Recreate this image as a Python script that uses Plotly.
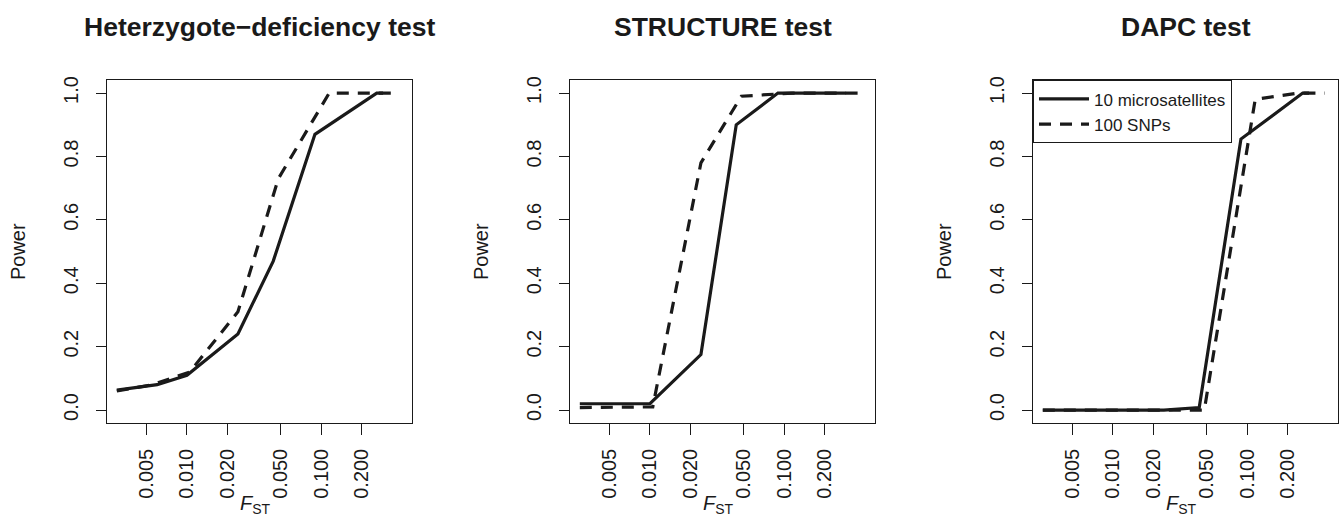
import plotly.graph_objects as go

# ---- data ----
fst_msat = [0.003, 0.006, 0.010, 0.024, 0.044, 0.090, 0.260, 0.290]
fst_snp = [0.003, 0.0055, 0.0105, 0.024, 0.048, 0.115, 0.240, 0.380]

titles = ["Heterzygote\u2212deficiency test", "STRUCTURE test", "DAPC test"]

het_msat = [0.063, 0.080, 0.110, 0.240, 0.470, 0.870, 1.000, 1.000]
het_snp = [0.060, 0.080, 0.120, 0.310, 0.730, 1.000, 1.000, 1.000]

str_msat = [0.020, 0.020, 0.020, 0.175, 0.900, 1.000, 1.000, 1.000]
str_snp = [0.008, 0.008, 0.010, 0.780, 0.990, 1.000, 1.000, 1.000]

dapc_msat = [0.000, 0.000, 0.000, 0.000, 0.008, 0.855, 1.000, 1.000]
dapc_snp = [0.000, 0.000, 0.000, 0.000, 0.000, 0.980, 1.000, 1.000]

series_names = ["10 microsatellites", "100 SNPs"]

x_tickvals = [0.005, 0.010, 0.020, 0.050, 0.100, 0.200]
x_ticktext = ["0.005", "0.010", "0.020", "0.050", "0.100", "0.200"]
y_tickvals = [0.0, 0.2, 0.4, 0.6, 0.8, 1.0]
y_ticktext = ["0.0", "0.2", "0.4", "0.6", "0.8", "1.0"]

panels = [(het_msat, het_snp), (str_msat, str_snp), (dapc_msat, dapc_snp)]

# ---- layout geometry ----
W, H = 1341, 518
x_px = [(107, 412), (570, 875), (1033, 1338)]
y_px = (77, 422)
FONT = "Liberation Sans, Arial, Helvetica, sans-serif"
INK = "#1a1a1a"

fig = go.Figure()

for i, (msat, snp) in enumerate(panels):
    xa = "x" if i == 0 else f"x{i+1}"
    ya = "y" if i == 0 else f"y{i+1}"
    show = (i == 2)
    fig.add_trace(go.Scatter(
        x=fst_msat, y=msat, mode="lines", name=series_names[0],
        line=dict(color=INK, width=3.2), xaxis=xa, yaxis=ya,
        showlegend=show, legendrank=1,
    ))
    fig.add_trace(go.Scatter(
        x=fst_snp, y=snp, mode="lines", name=series_names[1],
        line=dict(color=INK, width=3.2, dash="12px,9px"), xaxis=xa, yaxis=ya,
        showlegend=show, legendrank=2,
    ))

layout = dict(
    width=W, height=H,
    margin=dict(l=0, r=0, t=0, b=0),
    paper_bgcolor="white", plot_bgcolor="white",
    font=dict(family=FONT, size=20, color=INK),
    showlegend=True,
    legend=dict(
        x=1033 / W, y=1 - y_px[0] / H, xanchor="left", yanchor="top",
        bordercolor=INK, borderwidth=1, bgcolor="white",
        font=dict(family=FONT, size=17, color=INK),
        itemwidth=50, tracegroupgap=0,
    ),
)

annotations = []
for i in range(3):
    xk = "xaxis" if i == 0 else f"xaxis{i+1}"
    yk = "yaxis" if i == 0 else f"yaxis{i+1}"
    x0, x1 = x_px[i]
    layout[xk] = dict(
        domain=[x0 / W, x1 / W], anchor="y" if i == 0 else f"y{i+1}",
        type="log", range=[-2.596, -0.322],
        tickmode="array", tickvals=x_tickvals, ticktext=x_ticktext,
        tickangle=-90, ticks="outside", ticklen=11, tickwidth=1, tickcolor=INK,
        showline=True, linecolor=INK, linewidth=1, mirror=True,
        showgrid=False, zeroline=False,
        tickfont=dict(family=FONT, size=20, color=INK),
        ticklabelstandoff=6,
    )
    layout[yk] = dict(
        domain=[1 - y_px[1] / H, 1 - y_px[0] / H], anchor="x" if i == 0 else f"x{i+1}",
        range=[-0.04, 1.04],
        tickmode="array", tickvals=y_tickvals, ticktext=y_ticktext,
        tickangle=-90, ticks="outside", ticklen=10, tickwidth=1, tickcolor=INK,
        showline=True, linecolor=INK, linewidth=1, mirror=True,
        showgrid=False, zeroline=False,
        tickfont=dict(family=FONT, size=20, color=INK),
        ticklabelstandoff=10,
    )
    cx = (x0 + x1) / 2
    annotations.append(dict(
        text=f"<b>{titles[i]}</b>", x=cx / W, y=1 - 23 / H, xref="paper", yref="paper",
        xanchor="center", yanchor="middle", showarrow=False,
        font=dict(family=FONT, size=26.5, color=INK),
    ))
    annotations.append(dict(
        text="Power", x=(x0 - 89) / W, y=1 - 250 / H, xref="paper", yref="paper",
        xanchor="center", yanchor="middle", showarrow=False, textangle=-90,
        font=dict(family=FONT, size=20, color=INK),
    ))
    annotations.append(dict(
        text="<i>F</i><sub>ST</sub>", x=(cx - 4) / W, y=1 - 504 / H, xref="paper", yref="paper",
        xanchor="center", yanchor="middle", showarrow=False,
        font=dict(family=FONT, size=20, color=INK),
    ))

layout["annotations"] = annotations
fig.update_layout(**layout)

fig.write_html(
    "out.html",
    config={"displayModeBar": False},
    post_script="document.body.style.margin='0px';document.body.style.overflow='hidden';",
)
